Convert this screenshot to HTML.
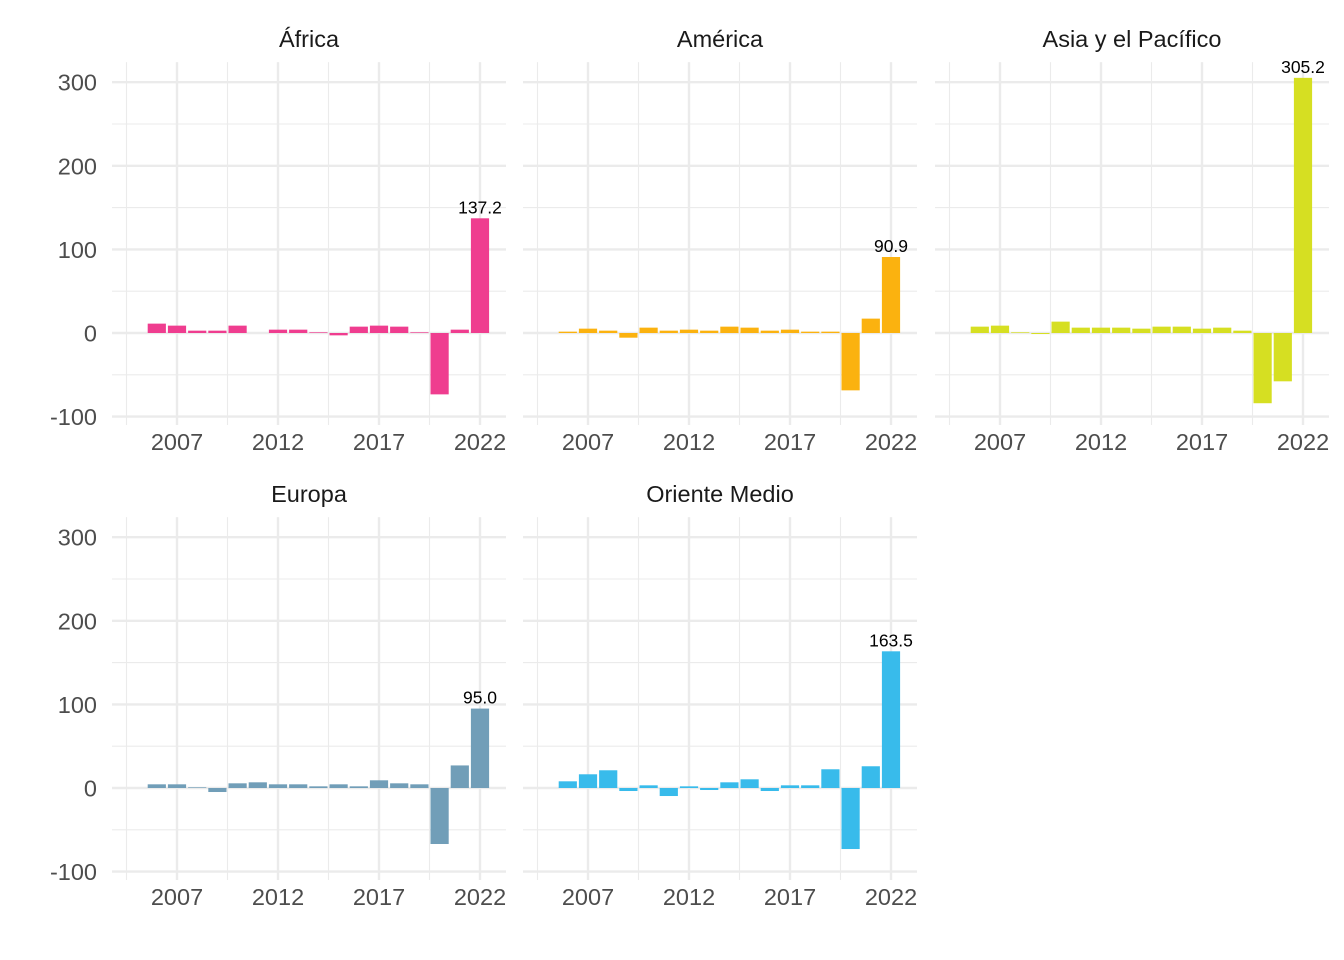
<!DOCTYPE html>
<html><head><meta charset="utf-8"><style>
body{margin:0;background:#fff;}
svg{display:block;font-family:"Liberation Sans",sans-serif;}
</style></head><body>
<svg id="chart" width="1344" height="960" xmlns="http://www.w3.org/2000/svg"></svg>
<script>
const years = [2006,2007,2008,2009,2010,2011,2012,2013,2014,2015,2016,2017,2018,2019,2020,2021,2022];
const regions = ["África","América","Asia y el Pacífico","Europa","Oriente Medio"];
const africa = [11.2,8.8,2.8,2.8,8.8,0,4,4,0.8,-2.8,7.6,8.8,7.6,0.8,-73.4,4,137.2];
const america = [1.6,5.2,2.8,-5.6,6.4,2.8,4,2.8,7.6,6.4,2.8,4,1.6,1.6,-68.6,17.2,90.9];
const asia = [7.6,8.8,0.8,-1.2,13.6,6.4,6.4,6.4,5.2,7.6,7.6,5.2,6.4,2.8,-84,-57.8,305.2];
const europa = [4.4,4.4,0.8,-4.8,5.6,6.8,4.4,4.4,2,4.4,2,9.2,5.6,4.4,-67,27,95.0];
const oriente = [8,16.4,21.2,-3.6,3.2,-9.6,2,-2.4,6.8,10.4,-3.6,3.2,3.2,22.4,-73,26,163.5];
const labels = ["137.2","90.9","305.2","95.0","163.5"];
const yTicks = [-100,0,100,200,300];
const yMinor = [-50,50,150,250];
const xTicks = [2007,2012,2017,2022];
const xMinor = [2004.5,2009.5,2014.5,2019.5];
const colors = ["#ef3d8f","#fbb20f","#d6df22","#719eb8","#38bbeb"];
const series = [africa,america,asia,europa,oriente];

const NS="http://www.w3.org/2000/svg";
const svg=document.getElementById('chart');
function mk(tag,attrs,parent){const e=document.createElementNS(NS,tag);for(const k in attrs)e.setAttribute(k,attrs[k]);(parent||svg).appendChild(e);return e;}
const panels=[{x0:112,z:333},{x0:523,z:333},{x0:935,z:333},{x0:112,z:788},{x0:523,z:788}];
const pw=394, ppu=0.836, ppy=20.2;
panels.forEach((p,i)=>{
  const g=mk('g',{});
  
  
  const xs=y=>p.x0+65+(y-2007)*ppy;
  const ys=v=>p.z-v*ppu;
  const top=ys(324), bot=ys(-110);
  yMinor.forEach(v=>mk('line',{x1:p.x0,x2:p.x0+pw,y1:ys(v),y2:ys(v),stroke:'#ebebeb','stroke-width':1.1},g));
  xMinor.forEach(v=>mk('line',{x1:xs(v),x2:xs(v),y1:top,y2:bot,stroke:'#ebebeb','stroke-width':1.1},g));
  yTicks.forEach(v=>mk('line',{x1:p.x0,x2:p.x0+pw,y1:ys(v),y2:ys(v),stroke:'#ebebeb','stroke-width':2.4},g));
  xTicks.forEach(v=>mk('line',{x1:xs(v),x2:xs(v),y1:top,y2:bot,stroke:'#ebebeb','stroke-width':2.4},g));
  const t=mk('text',{x:p.x0+pw/2,y:p.z-286,'text-anchor':'middle','font-size':23.5,fill:'#1a1a1a'},g);
  t.textContent=regions[i];
  
  
  series[i].forEach((v,j)=>{
    const x=xs(years[j]);
    const r=mk('rect',{x:x-9.1,width:18.2,y:Math.min(ys(v),ys(0)),height:Math.abs(ys(v)-ys(0)),fill:colors[i]},g);
    
    
  });
  const last=series[i][series[i].length-1];
  const lt=mk('text',{x:xs(2022),y:ys(last)-5,'text-anchor':'middle','font-size':17.5,fill:'#000'},g);
  lt.textContent=labels[i];
  
  
  xTicks.forEach(v=>{const tt=mk('text',{x:xs(v),y:bot+25,'text-anchor':'middle','font-size':23.5,fill:'#4d4d4d'},g);tt.textContent=v;
    
    });
  if(p.x0===112){yTicks.forEach(v=>{const tt=mk('text',{x:97,y:ys(v)+8.5,'text-anchor':'end','font-size':23.5,fill:'#4d4d4d'},g);tt.textContent=v;
    
    });}
});
</script>
</body></html>
